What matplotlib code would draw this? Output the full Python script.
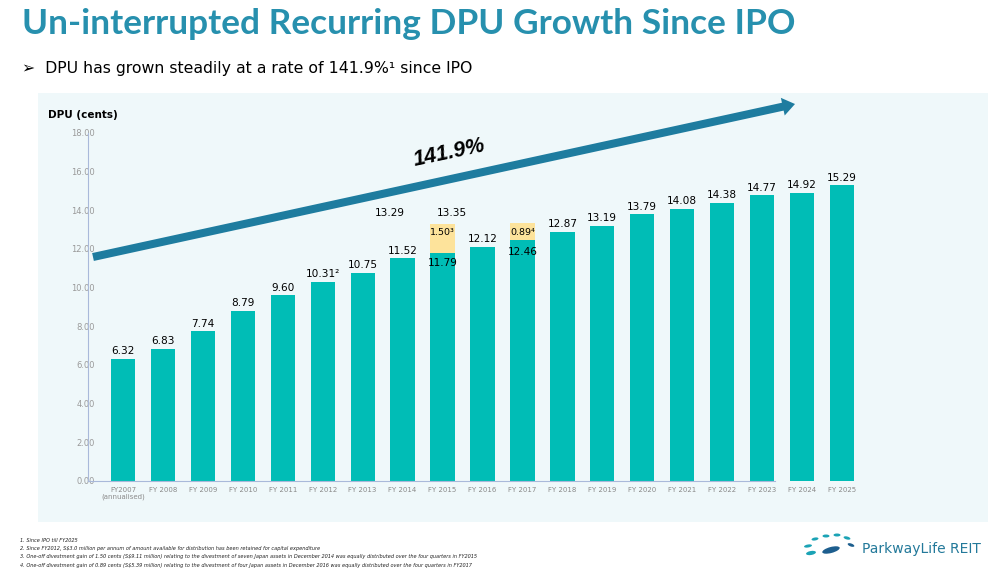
"""
Parkway Life REIT - DPU growth since IPO, recreated as a bar chart.
"""

import matplotlib
matplotlib.use("Agg")
import matplotlib.pyplot as plt
from matplotlib.patches import Rectangle, Ellipse
from matplotlib.transforms import IdentityTransform

# --- data ---
years = ['FY2007\n(annualised)', 'FY 2008', 'FY 2009', 'FY 2010', 'FY 2011',
         'FY 2012', 'FY 2013', 'FY 2014', 'FY 2015', 'FY 2016', 'FY 2017',
         'FY 2018', 'FY 2019', 'FY 2020', 'FY 2021', 'FY 2022', 'FY 2023',
         'FY 2024', 'FY 2025']
dpu = [6.32, 6.83, 7.74, 8.79, 9.60, 10.31, 10.75, 11.52, 11.79, 12.12,
       12.46, 12.87, 13.19, 13.79, 14.08, 14.38, 14.77, 14.92, 15.29]
one_off = [0, 0, 0, 0, 0, 0, 0, 0, 1.50, 0, 0.89, 0, 0, 0, 0, 0, 0, 0, 0]
top_labels = ['6.32', '6.83', '7.74', '8.79', '9.60', '10.31²', '10.75', '11.52',
              '', '12.12', '', '12.87', '13.19', '13.79', '14.08', '14.38',
              '14.77', '14.92', '15.29']
growth = '141.9%'

footnotes = [
    "1. Since IPO till FY2025",
    "2. Since FY2012, S$3.0 million per annum of amount available for distribution has been retained for capital expenditure",
    "3. One-off divestment gain of 1.50 cents (S$9.11 million) relating to the divestment of seven Japan assets in December 2014 was equally distributed over the four quarters in FY2015",
    "4. One-off divestment gain of 0.89 cents (S$5.39 million) relating to the divestment of four Japan assets in December 2016 was equally distributed over the four quarters in FY2017",
]

TEAL = '#00BDB6'
YELLOW = '#FDE39B'
ARROW = '#1E7C9F'
TITLE = '#2790AE'

plt.rcParams['font.family'] = ['DejaVu Sans']

fig = plt.figure(figsize=(10, 5.76), dpi=100)
H = 576

# light panel behind the chart
fig.add_artist(Rectangle((38, H - 522), 950, 429, transform=IdentityTransform(),
                         facecolor='#EFF8FA', edgecolor='none', zorder=0))

fig.text(0.022, 1 - 24 / H, 'Un-interrupted Recurring DPU Growth Since IPO',
         fontsize=25.4, fontweight='bold', color=TITLE, family=['Lato', 'DejaVu Sans'],
         va='center', ha='left')
fig.text(0.022, 1 - 68 / H, '➢  DPU has grown steadily at a rate of 141.9%¹ since IPO',
         fontsize=11.3, color='black', va='center', ha='left')

ax = fig.add_axes([0.088, 95 / H, 0.782, 348 / H])
ax.set_facecolor('none')
x = list(range(len(years)))

ax.bar(x, dpu, width=0.607, color=TEAL, zorder=2)
ax.bar(x, one_off, width=0.607, bottom=dpu, color=YELLOW, zorder=2)

for i, lab in enumerate(top_labels):
    if lab:
        ax.annotate(lab, (i, dpu[i]), xytext=(0, 2), textcoords='offset points',
                    ha='center', va='bottom', fontsize=7.6)

# labels of the two stacked years, placed as in the source slide
ax.text(6.67, 13.85, '13.29', ha='center', va='center', fontsize=7.6)
ax.text(8.24, 13.85, '13.35', ha='center', va='center', fontsize=7.6)
ax.text(8, 12.83, '1.50³', ha='center', va='center', fontsize=6.8)
ax.text(8, 11.28, '11.79', ha='center', va='center', fontsize=7.6)
ax.text(10, 12.83, '0.89⁴', ha='center', va='center', fontsize=6.8)
ax.text(10, 11.85, '12.46', ha='center', va='center', fontsize=7.6)

ax.set_xlim(-0.875, 18.7)
ax.set_ylim(0, 18)
ax.set_yticks(range(0, 19, 2))
ax.set_yticklabels([f'{v:.2f}' for v in range(0, 19, 2)])
ax.set_xticks(x)
ax.set_xticklabels(years)
ax.tick_params(axis='y', length=0, pad=-5, labelsize=6, labelcolor='#9A9A9A')
ax.tick_params(axis='x', length=0, pad=4, labelsize=5, labelcolor='#8A8A8A')
for t in ax.get_yticklabels():
    t.set_zorder(5)

for s in ['top', 'right']:
    ax.spines[s].set_visible(False)
ax.spines['left'].set_color('#A9B9DA')
ax.spines['bottom'].set_color('#A9B9DA')
ax.spines['bottom'].set_bounds(-0.875, 16.33)

fig.text(0.048, 1 - 115 / H, 'DPU (cents)', fontsize=7.5, fontweight='bold',
         va='center', ha='left')

# growth arrow
ax.annotate('', xy=(0.795, 1 - 104 / H), xycoords='figure fraction',
            xytext=(0.093, 1 - 257 / H), textcoords='figure fraction',
            arrowprops=dict(arrowstyle='simple,head_length=0.45,head_width=0.65,tail_width=0.29',
                            mutation_scale=20, color=ARROW, lw=0,
                            shrinkA=0, shrinkB=0))
fig.text(0.449, 1 - 153 / H, growth, fontsize=15.5, fontweight='bold', style='italic',
         family=['Liberation Sans', 'DejaVu Sans'], rotation=12,
         ha='center', va='center')

for k, note in enumerate(footnotes):
    fig.text(0.020, 1 - (540 + 8.4 * k) / H, note, fontsize=3.6, style='italic',
             va='center', ha='left', color='#222222')

# logo
for (cx, cy, w, h, ang, c) in [(815, 539, 7, 3, 10, '#1BA3B5'), (826, 536, 7, 3, 0, '#1BA3B5'),
                               (837, 535, 7, 3, 0, '#1BA3B5'), (847, 538, 7, 3, -15, '#1BA3B5'),
                               (808, 546, 8, 3, 10, '#1BA3B5'), (851, 545, 7, 3, -20, '#1D5E8E'),
                               (811, 553, 10, 4, 10, '#1BA3B5'), (831, 550, 18, 6, 15, '#1D5E8E')]:
    fig.add_artist(Ellipse((cx, H - cy), w, h, angle=ang, transform=IdentityTransform(),
                           facecolor=c, edgecolor='none'))
fig.text(0.862, 1 - 549 / H, 'ParkwayLife REIT', fontsize=10, color='#23799A',
         va='center', ha='left')

fig.savefig('out.png', dpi=100)
